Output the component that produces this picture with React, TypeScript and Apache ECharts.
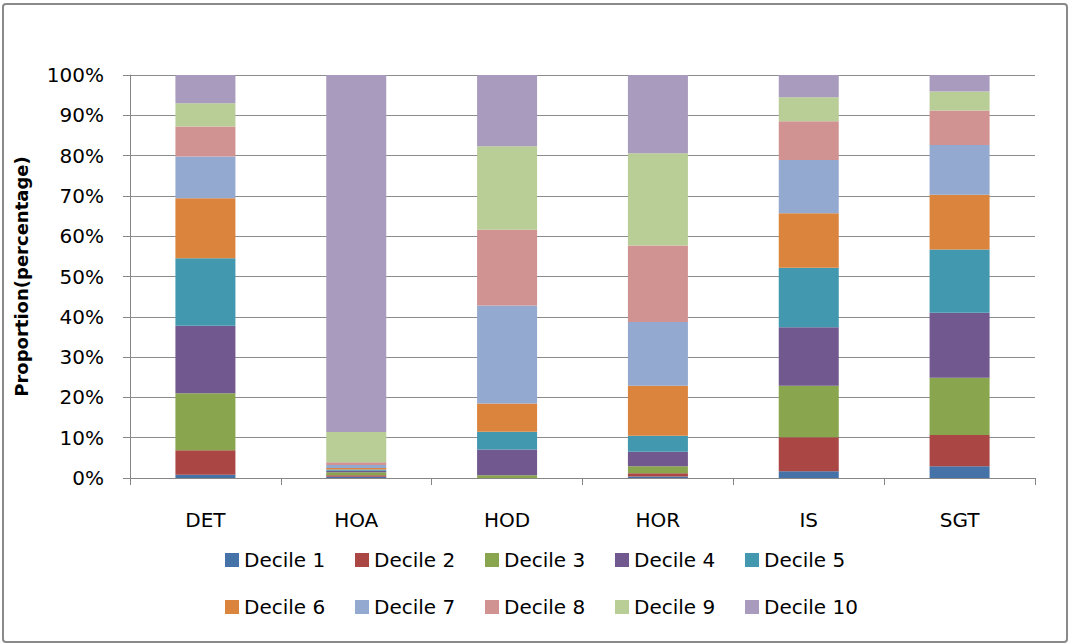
import React, { useEffect, useRef } from "react";
import * as echarts from "echarts";

const categories = ["DET", "HOA", "HOD", "HOR", "IS", "SGT"];
const seriesNames = ["Decile 1", "Decile 2", "Decile 3", "Decile 4", "Decile 5", "Decile 6", "Decile 7", "Decile 8", "Decile 9", "Decile 10"];
const colors = ["#4572A7", "#AA4643", "#89A54E", "#71588F", "#4198AF", "#DB843D", "#93A9CF", "#D19392", "#B9CD96", "#A99BBD"];

// percentages per category (DET, HOA, HOD, HOR, IS, SGT)
const decile1 = [0.8, 0.3, 0, 0.4, 1.7, 2.9];
const decile2 = [6.1, 0.4, 0, 0.8, 8.4, 7.8];
const decile3 = [14.1, 0.7, 0.7, 1.7, 12.8, 14.2];
const decile4 = [16.8, 0.4, 6.4, 3.6, 14.5, 16.1];
const decile5 = [16.7, 0.3, 4.4, 4.0, 14.8, 15.7];
const decile6 = [14.9, 0.4, 7.0, 12.4, 13.5, 13.6];
const decile7 = [10.4, 0.7, 24.3, 15.8, 13.2, 12.3];
const decile8 = [7.4, 0.7, 18.8, 19.0, 9.6, 8.6];
const decile9 = [5.8, 7.5, 20.7, 22.9, 6.0, 4.7];
const decile10 = [7.0, 88.6, 17.7, 19.4, 5.5, 4.1];

const seriesValues = [decile1, decile2, decile3, decile4, decile5, decile6, decile7, decile8, decile9, decile10];
const yTicks = [0, 10, 20, 30, 40, 50, 60, 70, 80, 90, 100];

const FONT = "DejaVu Sans";

export default function App() {
  const ref = useRef<HTMLDivElement>(null);
  useEffect(() => {
    if (!ref.current) return;
    const chart = echarts.init(ref.current, null, { renderer: "svg" });
    chart.setOption({
      animation: false,
      backgroundColor: "#ffffff",
      color: colors,
      graphic: [
        {
          type: "rect",
          shape: { x: 3, y: 4, width: 1064, height: 638, r: 3 },
          style: { fill: "none", stroke: "#8a8a8a", lineWidth: 2 },
          silent: true,
        },
      ],
      grid: { left: 130, right: 36, top: 75, bottom: 166, containLabel: false },
      legend: {
        data: seriesNames,
        left: 220,
        top: 533,
        width: 660,
        itemWidth: 14,
        itemHeight: 14,
        itemGap: 3,
        icon: "rect",
        textStyle: { fontFamily: FONT, fontSize: 20, color: "#000", width: 108, lineHeight: 44 },
      },
      xAxis: {
        type: "category",
        data: categories,
        axisLine: { lineStyle: { color: "#868686", width: 1 } },
        axisTick: { show: true, length: 7, inside: false, lineStyle: { color: "#868686" } },
        axisLabel: { fontFamily: FONT, fontSize: 20, color: "#000", margin: 32 },
      },
      yAxis: {
        type: "value",
        min: 0,
        max: 100,
        interval: 10,
        name: "Proportion(percentage)",
        nameLocation: "middle",
        nameGap: 100,
        nameRotate: 90,
        nameTextStyle: { fontFamily: FONT, fontSize: 18, fontWeight: "bold", color: "#000" },
        axisLine: { show: true, lineStyle: { color: "#868686", width: 1 } },
        axisTick: { show: true, length: 7, lineStyle: { color: "#868686" } },
        splitLine: { show: true, lineStyle: { color: "#8c8c8c", width: 1 } },
        axisLabel: {
          fontFamily: FONT,
          fontSize: 20,
          color: "#000",
          margin: 26,
          formatter: (v: number) => (yTicks.includes(v) ? v + "%" : ""),
        },
      },
      series: seriesNames.map((name, i) => ({
        name,
        type: "bar",
        stack: "total",
        barWidth: 60,
        data: seriesValues[i],
        itemStyle: { color: colors[i] },
      })),
    });
    return () => chart.dispose();
  }, []);
  return (
    <div
      ref={ref}
      style={{ position: "fixed", left: 0, top: 0, width: 1071, height: 644 }}
    />
  );
}
